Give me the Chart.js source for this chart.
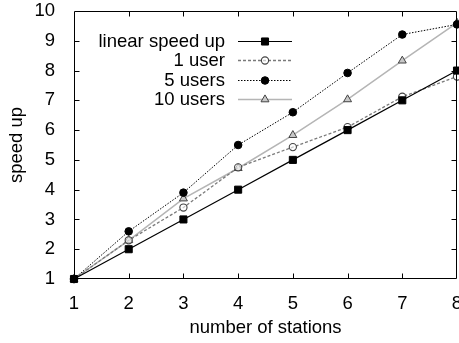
<!DOCTYPE html>
<html>
<head>
<meta charset="utf-8">
<script src="https://cdn.jsdelivr.net/npm/chart.js@4/dist/chart.umd.min.js"></script>
<style>
html,body{margin:0;padding:0;background:#fff;}
#wrap{width:459px;height:343px;}
</style>
</head>
<body>
<div id="wrap"><canvas id="c" width="459" height="343"></canvas></div>
<script>
const stations = [1, 2, 3, 4, 5, 6, 7, 8];
const linearSpeedUp = [1, 2, 3, 4, 5, 6, 7, 8];
const oneUser = [1, 2.3, 3.4, 4.75, 5.43, 6.1, 7.12, 7.8];
const fiveUsers = [1, 2.6, 3.9, 5.5, 6.6, 7.92, 9.21, 9.55];
const tenUsers = [1, 2.3, 3.7, 4.72, 5.83, 7.03, 8.33, 9.6];
const seriesNames = ['linear speed up', '1 user', '5 users', '10 users'];
const xTicks = [1, 2, 3, 4, 5, 6, 7, 8];
const yTicks = [1, 2, 3, 4, 5, 6, 7, 8, 9, 10];

const FONT = '"Liberation Sans", Arial, Helvetica, sans-serif';
const FS = 18.5;

function pts(ys) { return stations.map((x, i) => ({x: x, y: ys[i]})); }

const datasets = [
  {label: seriesNames[0], data: pts(linearSpeedUp), borderColor: '#000', borderWidth: 1.2,
   pointStyle: 'rect', pointRadius: 5, pointBackgroundColor: '#000', pointBorderColor: '#000', pointBorderWidth: 1},
  {label: seriesNames[1], data: pts(oneUser), borderColor: '#7a7a7a', borderWidth: 1.3, borderDash: [3, 2],
   pointStyle: 'circle', pointRadius: 3.6, pointBackgroundColor: 'rgba(255,255,255,0.6)', pointBorderColor: '#444', pointBorderWidth: 1.1},
  {label: seriesNames[2], data: pts(fiveUsers), borderColor: '#000', borderWidth: 1, borderDash: [1.5, 1.5],
   pointStyle: 'circle', pointRadius: 3.8, pointBackgroundColor: '#000', pointBorderColor: '#000', pointBorderWidth: 1},
  {label: seriesNames[3], data: pts(tenUsers), borderColor: '#b5b5b5', borderWidth: 1.5,
   pointStyle: 'triangle', pointRadius: 4.6, pointBackgroundColor: '#c8c8c8', pointBorderColor: '#444', pointBorderWidth: 1}
];
datasets.forEach(d => { d.showLine = true; d.fill = false; d.tension = 0; d.clip = false; });

function drawMarker(ctx, ds, x, y) {
  ctx.save();
  ctx.setLineDash([]);
  ctx.fillStyle = ds.pointBackgroundColor;
  ctx.strokeStyle = ds.pointBorderColor;
  ctx.lineWidth = ds.pointBorderWidth;
  const r = ds.pointRadius;
  ctx.beginPath();
  if (ds.pointStyle === 'rect') {
    const s = Math.SQRT1_2 * r;
    ctx.rect(x - s, y - s, 2 * s, 2 * s);
  } else if (ds.pointStyle === 'triangle') {
    ctx.moveTo(x, y - r);
    ctx.lineTo(x + Math.sin(2 * Math.PI / 3) * r, y + 0.5 * r);
    ctx.lineTo(x - Math.sin(2 * Math.PI / 3) * r, y + 0.5 * r);
    ctx.closePath();
  } else {
    ctx.arc(x, y, r, 0, Math.PI * 2);
  }
  ctx.fill();
  ctx.stroke();
  ctx.restore();
}

const framePlugin = {
  id: 'frame',
  afterDatasetsDraw(chart) {
    const ctx = chart.ctx;
    const a = chart.chartArea;
    const xs = chart.scales.x, ys = chart.scales.y;
    ctx.save();
    ctx.strokeStyle = '#000';
    ctx.lineWidth = 1;
    ctx.setLineDash([]);
    ctx.beginPath();
    const L = Math.round(a.left) + 0.5, R = Math.round(a.right) - 0.5;
    const T = Math.round(a.top) + 0.5, B = Math.round(a.bottom) - 0.5;
    ctx.rect(L, T, R - L, B - T);
    const tl = 5;
    xTicks.forEach(v => {
      if (v === xs.min || v === xs.max) return;
      const px = Math.round(xs.getPixelForValue(v)) + 0.5;
      ctx.moveTo(px, B); ctx.lineTo(px, B - tl);
      ctx.moveTo(px, T); ctx.lineTo(px, T + tl);
    });
    yTicks.forEach(v => {
      if (v === ys.min || v === ys.max) return;
      const py = Math.round(ys.getPixelForValue(v)) + 0.5;
      ctx.moveTo(L, py); ctx.lineTo(L + tl, py);
      ctx.moveTo(R, py); ctx.lineTo(R - tl, py);
    });
    ctx.stroke();

    // legend
    const textRight = 225, lineL = 238, lineR = 292, mk = 265;
    const rows = [41, 60.3, 79.5, 98.8];
    ctx.font = FS + 'px ' + FONT;
    ctx.textAlign = 'right';
    ctx.textBaseline = 'middle';
    ctx.fillStyle = '#000';
    chart.data.datasets.forEach((ds, i) => {
      const y = rows[i];
      ctx.fillText(ds.label, textRight, y + 1);
      ctx.save();
      ctx.strokeStyle = ds.borderColor;
      ctx.lineWidth = ds.borderWidth;
      ctx.setLineDash(ds.borderDash || []);
      ctx.beginPath();
      ctx.moveTo(lineL, Math.round(y) + 0.5);
      ctx.lineTo(lineR, Math.round(y) + 0.5);
      ctx.stroke();
      ctx.restore();
      drawMarker(ctx, ds, mk, Math.round(y) + 0.5);
    });
    ctx.restore();
  }
};

new Chart(document.getElementById('c'), {
  type: 'scatter',
  data: {datasets: datasets},
  options: {
    responsive: false,
    animation: false,
    layout: {autoPadding: false, padding: {top: 11, right: 2, left: 0, bottom: 0}},
    plugins: {legend: {display: false}, tooltip: {enabled: false}},
    scales: {
      x: {
        type: 'linear', min: 1, max: 8,
        afterBuildTicks(s) { s.ticks = xTicks.map(v => ({value: v})); },
        afterFit(s) { s.height = 64; s.paddingLeft = 0; s.paddingRight = 0; },
        grid: {display: false},
        border: {display: false},
        ticks: {color: '#000', font: {family: FONT, size: FS}, padding: 6, maxRotation: 0, autoSkip: false,
                callback: v => String(v)},
        title: {display: true, text: 'number of stations', color: '#000', font: {family: FONT, size: FS},
                padding: {top: 0, bottom: 4}}
      },
      y: {
        type: 'linear', min: 1, max: 10,
        afterBuildTicks(s) { s.ticks = yTicks.map(v => ({value: v})); },
        afterFit(s) { s.width = 74; s.paddingTop = 0; s.paddingBottom = 0; },
        grid: {display: false},
        border: {display: false},
        ticks: {color: '#000', font: {family: FONT, size: FS}, padding: 11, autoSkip: false,
                callback: v => String(v)},
        title: {display: true, text: 'speed up', color: '#000', font: {family: FONT, size: FS},
                padding: {top: 6, bottom: 0}}
      }
    }
  },
  plugins: [framePlugin]
});
</script>
</body>
</html>
